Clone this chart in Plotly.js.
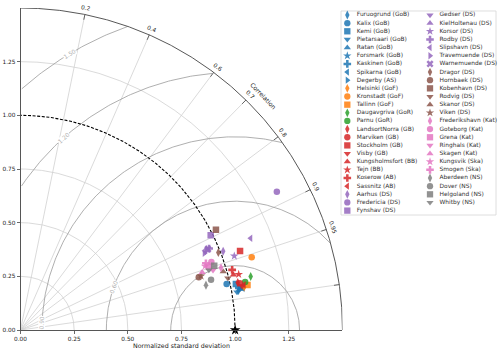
<!DOCTYPE html>
<html>
<head>
<meta charset="utf-8">
<script src="https://cdn.plot.ly/plotly-3.0.1.min.js"></script>
<style>
  body { margin: 0; background: #fff; }
  #taylor { width: 500px; height: 352px; }
</style>
</head>
<body>
<div id="taylor"></div>
<script>
// tide gauge stations, in legend order
const stations = [
  "Furuogrund (GoB)", "Kalix (GoB)", "Kemi (GoB)", "Pietarsaari (GoB)", "Ratan (GoB)",
  "Forsmark (GoB)", "Kaskinen (GoB)", "Spikarna (GoB)", "Degerby (AS)",
  "Helsinki (GoF)", "Kronstadt (GoF)", "Tallinn (GoF)",
  "Daugavgriva (GoR)", "Parnu (GoR)",
  "LandsortNorra (GB)", "Marviken (GB)", "Stockholm (GB)", "Visby (GB)",
  "Kungsholmsfort (BB)", "Tejn (BB)", "Koserow (AB)", "Sassnitz (AB)",
  "Aarhus (DS)", "Fredericia (DS)", "Fynshav (DS)", "Gedser (DS)", "KielHoltenau (DS)",
  "Korsor (DS)", "Rodby (DS)", "Slipshavn (DS)", "Travemuende (DS)", "Warnemuende (DS)",
  "Dragor (DS)", "Hornbaek (DS)", "Kobenhavn (DS)", "Rodvig (DS)", "Skanor (DS)", "Viken (DS)",
  "Frederikshavn (Kat)", "Goteborg (Kat)", "Grena (Kat)", "Ringhals (Kat)", "Skagen (Kat)",
  "Kungsvik (Ska)", "Smogen (Ska)",
  "Aberdeen (NS)", "Dover (NS)", "Helgoland (NS)", "Whitby (NS)"
];

// normalized standard deviation of each station
const stdDev = [
  1.032, 0.984, 1.026, 1.024, 1.040, 1.050, 1.036, 1.056, 1.042,
  1.061, 1.129, 1.078,
  1.101, 1.070,
  1.036, 1.045, 1.087, 1.052, 1.025, 1.049, 1.025, 1.062,
  1.013, 1.357, 0.990, 0.935, 0.946, 1.054, 0.957, 1.154, 0.928, 0.951,
  0.990, 0.866, 1.023, 0.996, 0.983, 0.878,
  0.978, 0.944, 0.926, 0.939, 0.888, 0.910, 0.918,
  0.889, 0.918, 0.951, 0.921
];

// correlation with the reference
const corrCoef = [
  0.984, 0.976, 0.978, 0.985, 0.983, 0.983, 0.982, 0.982, 0.981,
  0.982, 0.954, 0.981,
  0.974, 0.978,
  0.977, 0.978, 0.941, 0.981, 0.968, 0.969, 0.962, 0.980,
  0.932, 0.880, 0.895, 0.921, 0.916, 0.945, 0.918, 0.929, 0.923, 0.918,
  0.931, 0.959, 0.890, 0.970, 0.961, 0.958,
  0.955, 0.942, 0.948, 0.955, 0.953, 0.945, 0.941,
  0.972, 0.967, 0.949, 0.953
];

// how many stations share a colour (in order)
const groupSizes = [9, 3, 2, 8, 10, 6, 7, 4];
const groupColors = ["#1f77b4", "#ff7f0e", "#2ca02c", "#d62728", "#9467bd", "#8c564b", "#e377c2", "#7f7f7f"];
const symbolCycle = ["diamond-tall", "circle", "square", "triangle-down", "triangle-up",
  "star", "cross", "triangle-left", "triangle-right", "x"];

const corrTicks = [0, 0.2, 0.4, 0.6, 0.7, 0.8, 0.9, 0.95, 0.99, 1.0];
const corrTickText = ["0.0", "0.2", "0.4", "0.6", "0.7", "0.8", "0.9", "0.95", "0.99", "1.0"];
const stdTicks = [0, 0.25, 0.5, 0.75, 1.0, 1.25];
const stdArcs = [0.25, 0.5, 0.75, 1.25];
const rmsLevels = [0.3, 0.6, 0.9, 1.2, 1.5];
const rmsLabelAngle = [null, 160.4, 178, 131.7, 120.9]; // deg, around (1,0)

const refStd = 1.0;
const maxStd = 1.5;
const FONT = "DejaVu Sans, sans-serif";

// colour and symbol per station
const markerColors = [];
const markerSymbols = [];
groupSizes.forEach((n, g) => {
  for (let i = 0; i < n; i++) {
    markerColors.push(groupColors[g]);
    markerSymbols.push(symbolCycle[i % symbolCycle.length]);
  }
});

const deg = Math.PI / 180;

function arc(cx, cy, r, a0, a1, keep) {
  const xs = [], ys = [];
  const n = 360;
  for (let i = 0; i <= n; i++) {
    const a = (a0 + (a1 - a0) * i / n) * deg;
    const x = cx + r * Math.cos(a), y = cy + r * Math.sin(a);
    if (keep && !keep(x, y)) { xs.push(null); ys.push(null); continue; }
    xs.push(x); ys.push(y);
  }
  return { x: xs, y: ys };
}

const traces = [];

// standard deviation arcs
stdArcs.forEach((r) => {
  const a = arc(0, 0, r, 0, 90);
  traces.push({ x: a.x, y: a.y, mode: "lines", line: { color: "#d0d0d0", width: 0.8 },
    hoverinfo: "skip", showlegend: false });
});

// correlation rays
corrTicks.slice(1, -1).forEach((c) => {
  const t = Math.acos(c);
  traces.push({ x: [0, maxStd * Math.cos(t)], y: [0, maxStd * Math.sin(t)], mode: "lines",
    line: { color: "#d0d0d0", width: 0.8 }, hoverinfo: "skip", showlegend: false });
  // tick on the outer arc
  traces.push({ x: [maxStd * Math.cos(t), (maxStd - 0.025) * Math.cos(t)],
    y: [maxStd * Math.sin(t), (maxStd - 0.025) * Math.sin(t)], mode: "lines",
    line: { color: "#444", width: 0.8 }, hoverinfo: "skip", showlegend: false });
});

// centred RMS difference contours
const inside = (x, y) => x >= -1e-9 && y >= -1e-9 && x * x + y * y <= maxStd * maxStd + 1e-9;
rmsLevels.forEach((r) => {
  const a = arc(refStd, 0, r, 0, 180, inside);
  traces.push({ x: a.x, y: a.y, mode: "lines", line: { color: "#9a9a9a", width: 0.8 },
    hoverinfo: "skip", showlegend: false });
});

// reference std arc (dashed)
const refArc = arc(0, 0, refStd, 0, 90);
traces.push({ x: refArc.x, y: refArc.y, mode: "lines",
  line: { color: "black", width: 1.1, dash: "3px,1.6px" }, hoverinfo: "skip", showlegend: false });

// outer arc
const outer = arc(0, 0, maxStd, 0, 90);
traces.push({ x: outer.x, y: outer.y, mode: "lines", line: { color: "#444", width: 0.9 },
  hoverinfo: "skip", showlegend: false, cliponaxis: false });

// stations
traces.push({
  x: stdDev.map((s, i) => s * corrCoef[i]),
  y: stdDev.map((s, i) => s * Math.sqrt(1 - corrCoef[i] * corrCoef[i])),
  text: stations,
  mode: "markers",
  marker: { color: markerColors, symbol: markerSymbols, size: 6.5, opacity: 0.85,
    line: { width: 0 } },
  hovertemplate: "%{text}<extra></extra>",
  showlegend: false
});

// reference point
traces.push({ x: [refStd], y: [0], mode: "markers", cliponaxis: false,
  marker: { color: "black", symbol: "star", size: 8 }, hoverinfo: "skip", showlegend: false });

// legend, drawn as a second small set of axes (two columns)
const perCol = Math.ceil(stations.length / 2);
const legX = stations.map((_, i) => (i < perCol ? 6.3 : 89));
const legY = stations.map((_, i) => 4 + 8.15 * (i % perCol));
traces.push({
  x: legX, y: legY, xaxis: "x2", yaxis: "y2", mode: "markers",
  marker: { color: markerColors, symbol: markerSymbols, size: 6.3, opacity: 0.85, line: { width: 0 } },
  hoverinfo: "skip", showlegend: false, cliponaxis: false
});
traces.push({
  x: legX.map((v) => v + 9.5), y: legY, xaxis: "x2", yaxis: "y2", mode: "text",
  text: stations, textposition: "middle right",
  textfont: { family: FONT, size: 5.9, color: "#333" },
  hoverinfo: "skip", showlegend: false, cliponaxis: false
});

const annotations = [];
corrTicks.forEach((c, i) => {
  const t = Math.acos(c);
  const r = maxStd + 0.03;
  annotations.push({
    x: r * Math.cos(t), y: r * Math.sin(t), xref: "x", yref: "y",
    text: corrTickText[i], showarrow: false, textangle: 90 - t / deg,
    font: { family: FONT, size: 5.8, color: "#222" }
  });
});
annotations.push({
  x: 1.57 * Math.cos(44 * deg), y: 1.57 * Math.sin(44 * deg), xref: "x", yref: "y",
  text: "Correlation", showarrow: false, textangle: 46,
  font: { family: FONT, size: 6.2, color: "#222" }
});
rmsLevels.forEach((r, i) => {
  if (rmsLabelAngle[i] === null) return;
  const p = rmsLabelAngle[i] * deg;
  annotations.push({
    x: refStd + r * Math.cos(p), y: r * Math.sin(p), xref: "x", yref: "y",
    text: r.toFixed(2), showarrow: false, textangle: -(rmsLabelAngle[i] - 90),
    bgcolor: "white", borderpad: 0,
    font: { family: FONT, size: 5.8, color: "#b0b0b0" }
  });
});

const axisCommon = {
  range: [0, maxStd], tickvals: stdTicks, tickformat: ".2f",
  ticks: "outside", ticklen: 3, tickwidth: 0.8, tickcolor: "#444",
  showline: true, linecolor: "#444", linewidth: 0.9,
  showgrid: false, zeroline: false,
  tickfont: { family: FONT, size: 5.8, color: "#222" }
};

const layout = {
  width: 500, height: 352,
  margin: { l: 20, r: 4, t: 8, b: 22 },
  paper_bgcolor: "white", plot_bgcolor: "rgba(0,0,0,0)",
  showlegend: false,
  xaxis: Object.assign({}, axisCommon, {
    domain: [0.001, 0.6775],
    title: { text: "Normalized standard deviation", standoff: 1,
      font: { family: FONT, size: 6.3, color: "#222" } }
  }),
  yaxis: Object.assign({}, axisCommon, { domain: [0, 1] }),
  xaxis2: { domain: [0.6744, 1], range: [0, 155], visible: false, fixedrange: true },
  yaxis2: { domain: [0.3571, 0.9907], range: [204, 0], visible: false, fixedrange: true },
  shapes: [{
    type: "rect", xref: "paper", yref: "paper", layer: "below",
    x0: 0.6744, x1: 1, y0: 0.3571, y1: 0.9907,
    line: { color: "#d5d5d5", width: 0.8 }, fillcolor: "rgba(255,255,255,0.8)"
  }],
  annotations: annotations
};

Plotly.newPlot("taylor", traces, layout, { displayModeBar: false, staticPlot: true });
</script>
</body>
</html>
